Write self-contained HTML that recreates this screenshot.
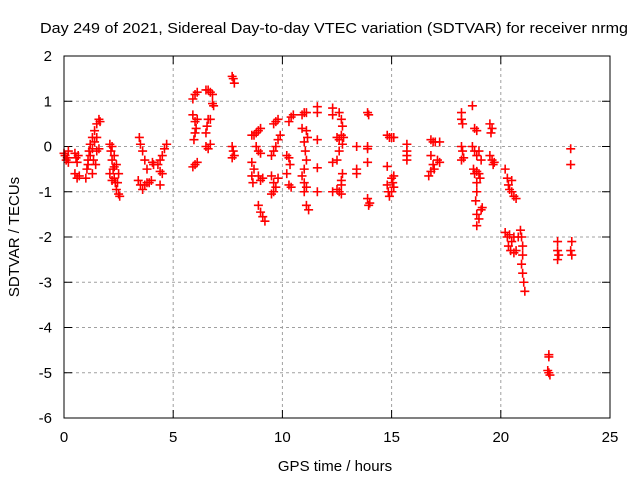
<!DOCTYPE html>
<html><head><meta charset="utf-8"><style>
body{margin:0;background:#fff}
svg{display:block;font-family:"Liberation Sans",sans-serif}
</style></head><body>
<svg id="chart" width="640" height="480">
<text x="334" y="33" font-size="15" text-anchor="middle" textLength="588" lengthAdjust="spacingAndGlyphs">Day 249 of 2021, Sidereal Day-to-day VTEC variation (SDTVAR) for receiver nrmg</text>
<text transform="translate(19,237) rotate(-90)" font-size="15" text-anchor="middle">SDTVAR / TECUs</text>
<text x="335" y="471" font-size="15" text-anchor="middle">GPS time / hours</text>
<g id="grid"></g><g id="ticks"></g><g id="marks"></g>
<rect x="64" y="56" width="546" height="362" fill="none" stroke="#000" stroke-width="1"/>
</svg>
<script>
const xTicks=[0,5,10,15,20,25];
const yTicks=[2,1,0,-1,-2,-3,-4,-5,-6];
const times=[0,0.05,0.1,0.15,0.2,0.2,0.5,0.55,0.6,0.65,0.5,0.6,0.7,
1.0,1.05,1.1,1.15,1.2,1.3,1.4,1.5,1.6,1.65,1.1,1.2,1.3,1.4,1.5,1.45,1.5,1.6,1.3,1.35,
2.1,2.15,2.2,2.25,2.3,2.35,2.4,2.5,2.55,2.2,2.3,2.4,2.5,2.45,2.1,2.2,2.3,
3.45,3.5,3.6,3.7,3.8,3.4,3.5,3.6,3.7,3.8,3.9,4.0,4.05,4.1,
4.3,4.4,4.5,4.6,4.7,4.4,4.5,4.4,
5.9,6.0,6.1,5.9,6.0,6.0,5.95,6.05,6.1,5.9,6.0,6.1,
6.5,6.6,6.7,6.8,6.8,6.85,6.5,6.55,6.6,6.7,6.5,6.6,6.7,
7.7,7.75,7.8,7.7,7.75,7.8,7.7,
8.6,8.7,8.8,8.9,9.0,8.6,8.7,8.6,8.65,8.8,8.9,9.0,8.9,9.0,9.1,8.9,9.0,9.1,9.2,
9.6,9.7,9.8,9.5,9.6,9.7,9.8,9.9,9.5,9.6,9.7,9.5,9.6,9.8,
10.3,10.4,10.5,10.2,10.3,10.35,10.2,10.3,10.4,
10.9,11.0,11.1,10.9,11.0,11.05,11.1,11.0,10.9,11.0,11.1,11.0,11.1,11.2,11.1,11.15,
11.6,11.6,11.6,11.6,11.6,12.3,12.3,12.3,12.3,
12.6,12.7,12.75,12.5,12.6,12.7,12.8,12.75,12.6,12.5,12.7,12.75,12.7,12.6,12.5,12.7,
13.4,13.4,13.4,
13.9,13.95,13.9,13.9,13.9,13.9,13.95,14.0,
14.8,14.9,15.0,15.1,14.8,15.0,15.05,15.1,15.0,15.1,14.8,14.85,14.9,
15.7,15.7,15.7,15.7,
16.8,16.9,17.0,17.2,16.8,16.9,16.95,16.8,16.7,17.1,17.2,
18.2,18.2,18.25,18.2,18.25,18.2,18.3,
18.7,18.8,18.9,18.7,18.8,18.9,19.0,19.1,18.75,18.8,18.9,19.0,19.05,18.9,18.9,18.85,18.9,19.0,18.9,19.1,19.15,
19.5,19.6,19.55,19.5,19.6,19.7,19.65,
20.2,20.3,20.35,20.4,20.5,20.6,20.7,20.5,20.2,20.3,20.4,20.5,20.35,20.45,20.6,20.7,20.8,20.6,
20.9,20.95,21.0,20.95,21.0,21.05,21.1,21.0,
22.2,22.2,22.15,22.2,22.25,
22.6,22.6,22.65,22.6,
23.2,23.2,23.25,23.2,23.25];
const values=[-0.15,-0.2,-0.3,-0.25,-0.1,-0.35,-0.15,-0.25,-0.35,-0.2,-0.6,-0.7,-0.65,
-0.7,-0.5,-0.3,-0.1,0.05,0.2,0.35,0.5,0.6,0.55,-0.4,-0.2,-0.05,0.1,0.2,-0.4,-0.1,-0.05,-0.6,-0.3,
0.05,-0.1,-0.3,-0.5,-0.7,-0.8,-0.95,-1.05,-1.1,0.0,-0.2,-0.4,-0.6,-0.8,-0.6,-0.75,-0.45,
0.2,0.05,-0.1,-0.3,-0.5,-0.75,-0.85,-0.95,-0.85,-0.8,-0.8,-0.75,-0.35,-0.4,
-0.4,-0.3,-0.2,-0.05,0.05,-0.55,-0.6,-0.85,
1.05,1.15,1.2,0.7,0.55,0.3,0.15,0.4,0.6,-0.45,-0.4,-0.35,
1.25,1.25,1.2,1.15,0.95,0.9,0.3,0.45,0.6,0.6,0.0,-0.05,0.05,
1.55,1.5,1.4,0.0,-0.1,-0.2,-0.25,
0.25,0.25,0.3,0.35,0.4,-0.35,-0.5,-0.65,-0.8,0.0,-0.1,-0.15,-0.65,-0.75,-0.7,-1.3,-1.45,-1.55,-1.65,
0.5,0.55,0.6,-0.2,-0.1,0.0,0.15,0.25,-0.65,-0.8,-0.9,-1.05,-1.0,-0.7,
0.55,0.65,0.7,-0.2,-0.25,-0.4,-0.6,-0.85,-0.9,
0.7,0.75,0.75,0.4,0.1,-0.1,-0.3,-0.5,-0.65,-0.8,-0.9,-1.0,-1.3,-1.4,0.35,0.2,
0.88,0.75,0.15,-0.47,-1.0,0.85,0.7,-0.35,-1.0,
0.75,0.6,0.45,0.2,0.15,0.25,0.2,0.05,-0.1,-0.3,-0.75,-0.6,-0.85,-1.0,-0.95,-1.05,
0.0,-0.5,-0.6,
0.75,0.7,0.0,-0.05,-0.35,-1.15,-1.3,-1.25,
0.25,0.2,0.2,0.2,-0.44,-0.7,-0.8,-0.9,-1.0,-0.65,-0.85,-1.0,-1.1,
0.05,-0.1,-0.2,-0.3,
0.15,0.1,0.1,0.1,-0.2,-0.4,-0.5,-0.55,-0.65,-0.3,-0.35,
0.75,0.6,0.5,0.0,-0.1,-0.3,-0.25,
0.9,0.4,0.35,0.0,-0.1,-0.2,-0.1,-0.3,-0.5,-0.6,-0.55,-0.6,-0.7,-0.8,-1.0,-1.2,-1.5,-1.6,-1.75,-1.4,-1.35,
0.5,0.4,0.3,-0.2,-0.3,-0.35,-0.4,
-0.5,-0.7,-0.85,-0.95,-1.0,-1.1,-1.15,-0.75,-1.9,-2.0,-1.95,-2.1,-2.2,-2.3,-2.35,-2.3,-2.0,-2.0,
-1.85,-2.0,-2.4,-2.6,-2.8,-3.0,-3.2,-2.2,
-4.6,-4.65,-4.95,-5.0,-5.05,
-2.1,-2.3,-2.4,-2.5,
-0.05,-0.4,-2.1,-2.3,-2.4];
const NS='http://www.w3.org/2000/svg';
const X0=64,X1=610,Y0=56,Y1=418,xmin=0,xmax=25,ymin=-6,ymax=2;
function sx(t){return X0+(t-xmin)/(xmax-xmin)*(X1-X0);}
function sy(v){return Y1-(v-ymin)/(ymax-ymin)*(Y1-Y0);}
function mk(tag,a,parent){const e=document.createElementNS(NS,tag);for(const k in a)e.setAttribute(k,a[k]);parent.appendChild(e);return e;}
const grid=document.getElementById('grid'),ticks=document.getElementById('ticks'),marks=document.getElementById('marks');
xTicks.forEach(t=>{const x=sx(t);
 if(t>xmin&&t<xmax){const g=mk('line',{x1:x,y1:Y0,x2:x,y2:Y1,stroke:'#a0a0a0','stroke-dasharray':'3,3'},grid);
 
 }
 mk('line',{x1:x,y1:Y1,x2:x,y2:Y1-8,stroke:'#000'},ticks);
 mk('line',{x1:x,y1:Y0,x2:x,y2:Y0+8,stroke:'#000'},ticks);
 const l=mk('text',{x:x,y:Y1+24,'font-size':15,'text-anchor':'middle'},ticks);l.textContent=t;
 
 });
yTicks.forEach(v=>{const y=sy(v);
 if(v>ymin&&v<ymax){const g=mk('line',{x1:X0,y1:y,x2:X1,y2:y,stroke:'#a0a0a0','stroke-dasharray':'3,3'},grid);
 
 }
 mk('line',{x1:X0,y1:y,x2:X0+8,y2:y,stroke:'#000'},ticks);
 mk('line',{x1:X1,y1:y,x2:X1-8,y2:y,stroke:'#000'},ticks);
 const l=mk('text',{x:X0-12,y:y+5,'font-size':15,'text-anchor':'end'},ticks);l.textContent=v;
 
 });
times.forEach((t,i)=>{const x=sx(t),y=sy(values[i]);
 const p=mk('path',{d:`M${x-4.5},${y}H${x+4.5}M${x},${y-4.5}V${y+4.5}`,stroke:'#ff0000','stroke-width':1.6,fill:'none'},marks);
 
 });
</script>
</body></html>
